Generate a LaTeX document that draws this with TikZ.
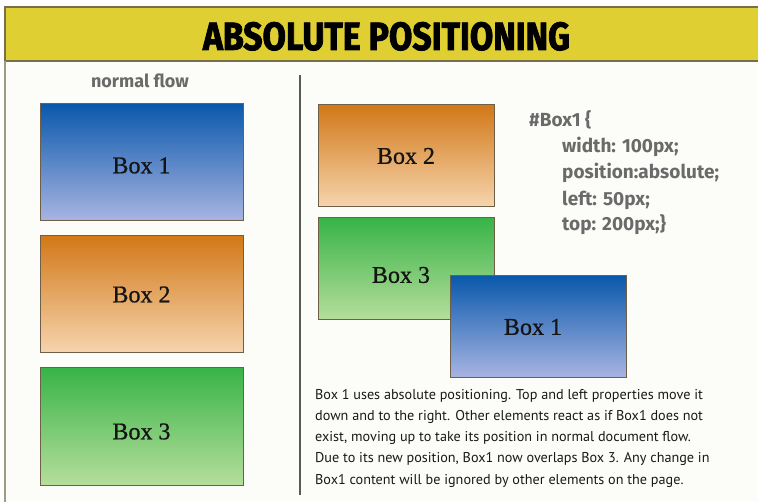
\documentclass[tikz,border=0pt]{standalone}
\usepackage{fontspec}
\setmainfont{Liberation Serif}
\newfontfamily\heavyfont[FakeStretch=0.82,FakeBold=2]{Fira Sans}
\newfontfamily\codefont{Fira Sans}
\newfontfamily\labelfont[FakeBold=0.8]{Liberation Serif}
\newfontfamily\bodyfont{PT Sans}
\definecolor{bg}{HTML}{FCFCF8}
\definecolor{hdr}{HTML}{E0CF33}
\definecolor{hdrline}{HTML}{75704A}
\definecolor{bxline}{HTML}{6E6048}
\definecolor{codegray}{HTML}{6A6A6A}
\definecolor{blueT}{HTML}{0A58AC}
\definecolor{blueB}{HTML}{A9B5E2}
\definecolor{orT}{HTML}{D27818}
\definecolor{orB}{HTML}{F6D5AE}
\definecolor{grT}{HTML}{38B447}
\definecolor{grB}{HTML}{B6DE9C}
\tikzset{
  boxbase/.style={draw=bxline, line width=1pt, inner sep=0pt},
  lbl/.style={inner sep=0pt, font=\labelfont\fontsize{24}{26}\selectfont, text=black!92},
  bluebox/.style={boxbase, top color=blueT, bottom color=blueB},
  orangebox/.style={boxbase, top color=orT, bottom color=orB},
  greenbox/.style={boxbase, top color=grT, bottom color=grB},
  bigbox/.style={minimum width=203pt, minimum height=117pt},
  smallbox/.style={minimum width=176pt, minimum height=102pt},
  codeline/.style={anchor=base west, inner sep=0pt, text=codegray, font=\codefont\bfseries\fontsize{19}{20}\selectfont},
}
\begin{document}
\begin{tikzpicture}[x=1pt,y=-1pt]
\useasboundingbox (0,0) rectangle (758,502);
\fill[white] (0,0) rectangle (758,502);
\fill[bg] (5,7) rectangle (758,502);
% header
\draw[hdrline, line width=2pt, fill=hdr] (5,7) rectangle (762,61);
\draw[hdrline!70, line width=1.5pt] (5,61) -- (5,503);
\node[inner sep=0pt, anchor=base] (title) at (386.5,50)
  {\heavyfont\bfseries\resizebox{367pt}{28pt}{ABSOLUTE POSITIONING}};
% left column
\node[inner sep=0pt, anchor=base, text=codegray] (nf) at (140,88)
  {\codefont\bfseries\fontsize{18}{20}\selectfont normal flow};
\node[bluebox, bigbox, label={[lbl, yshift=-3pt]center:Box 1}] (lb1) at (141.5,162.5) {};
\node[orangebox, bigbox, label={[lbl]center:Box 2}] (lb2) at (141.5,294.5) {};
\node[greenbox, bigbox, label={[lbl, yshift=-5pt]center:Box 3}] (lb3) at (141.5,426.5) {};
% separator
\draw[black!65, line width=1.3pt] (300,75) -- (300,495);
% right column
\node[orangebox, smallbox, label={[lbl]center:Box 2}] (rb2) at (406,156) {};
\node[greenbox, smallbox, label={[lbl, xshift=-5pt, yshift=-6pt]center:Box 3}] (rb3) at (406,269) {};
\node[bluebox, smallbox, label={[lbl, xshift=-5pt]center:Box 1}] (rb1) at (538,327) {};
% code
\node[codeline] (c0) at (529,127) {\#Box1 \{};
\node[codeline] (c1) at (562,153) {width: 100px;};
\node[codeline] (c2) at (562,179) {position:absolute;};
\node[codeline] (c3) at (562,206) {left: 50px;};
\node[codeline] (c4) at (562,231) {top: 200px;\}};
% paragraph
\node[anchor=north west, inner sep=0pt, align=left, text=black!90,
  font=\bodyfont\fontsize{14.2}{21.2}\selectfont] (para) at (315,389)
  {Box 1 uses absolute positioning. Top and left properties move it\\
   down and to the right. Other elements react as if Box1 does not\\
   exist, moving up to take its position in normal document flow.\\
   Due to its new position, Box1 now overlaps Box 3. Any change in\\
   Box1 content will be ignored by other elements on the page.};
\end{tikzpicture}
\end{document}
